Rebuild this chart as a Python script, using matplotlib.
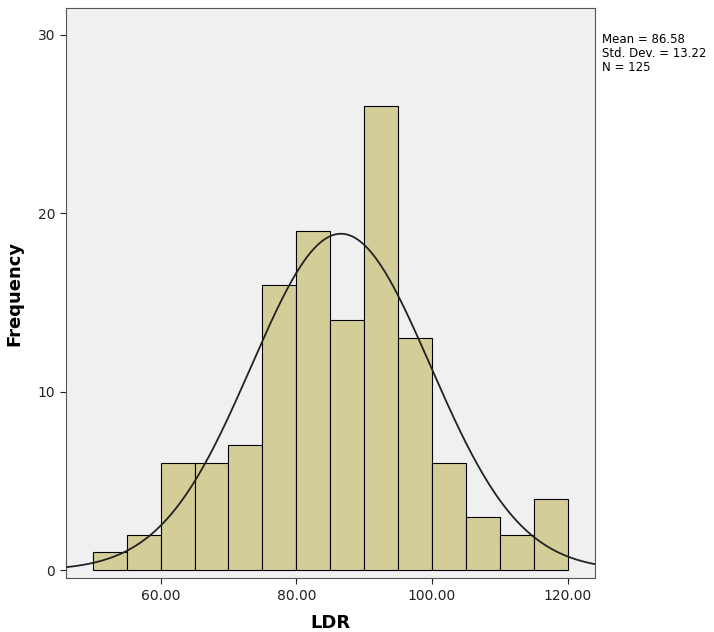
import numpy as np
import matplotlib
matplotlib.use("Agg")
import matplotlib.pyplot as plt

bin_edges = [50, 55, 60, 65, 70, 75, 80, 85, 90, 95, 100, 105, 110, 115, 120]
counts = [1, 2, 6, 6, 7, 16, 19, 14, 26, 13, 6, 3, 2, 4]
mean, sd, n = 86.58, 13.22, 125

fig = plt.figure(figsize=(7.14, 6.32), dpi=100)
ax = fig.add_axes([0.092, 0.085, 0.741, 0.902])
ax.set_facecolor("#F0F0F0")
fig.patch.set_facecolor("white")

lefts = bin_edges[:-1]
ax.bar(lefts, counts, width=5, align="edge", color="#D3CE97",
       edgecolor="black", linewidth=0.8, zorder=2)

# fitted normal curve scaled to counts
xs = np.linspace(44, 126, 400)
ys = n * 5 / (sd * np.sqrt(2 * np.pi)) * np.exp(-0.5 * ((xs - mean) / sd) ** 2)
ax.plot(xs, ys, color="#222222", linewidth=1.3, zorder=3)

ax.set_xlim(46, 124)
ax.set_ylim(-0.45, 31.5)
ax.set_xticks([60, 80, 100, 120])
ax.set_xticklabels(["60.00", "80.00", "100.00", "120.00"])
ax.set_yticks([0, 10, 20, 30])
ax.tick_params(labelsize=10, colors="#222222", length=4)
for s in ax.spines.values():
    s.set_color("#555555")
    s.set_linewidth(0.8)

ax.set_xlabel("LDR", fontsize=13, fontweight="bold", labelpad=8)
ax.set_ylabel("Frequency", fontsize=13, fontweight="bold", labelpad=10)

fig.text(0.843, 0.948, "Mean = 86.58\nStd. Dev. = 13.22\nN = 125",
         fontsize=8.5, va="top", ha="left", linespacing=1.1)

fig.savefig("out.png", dpi=100)
